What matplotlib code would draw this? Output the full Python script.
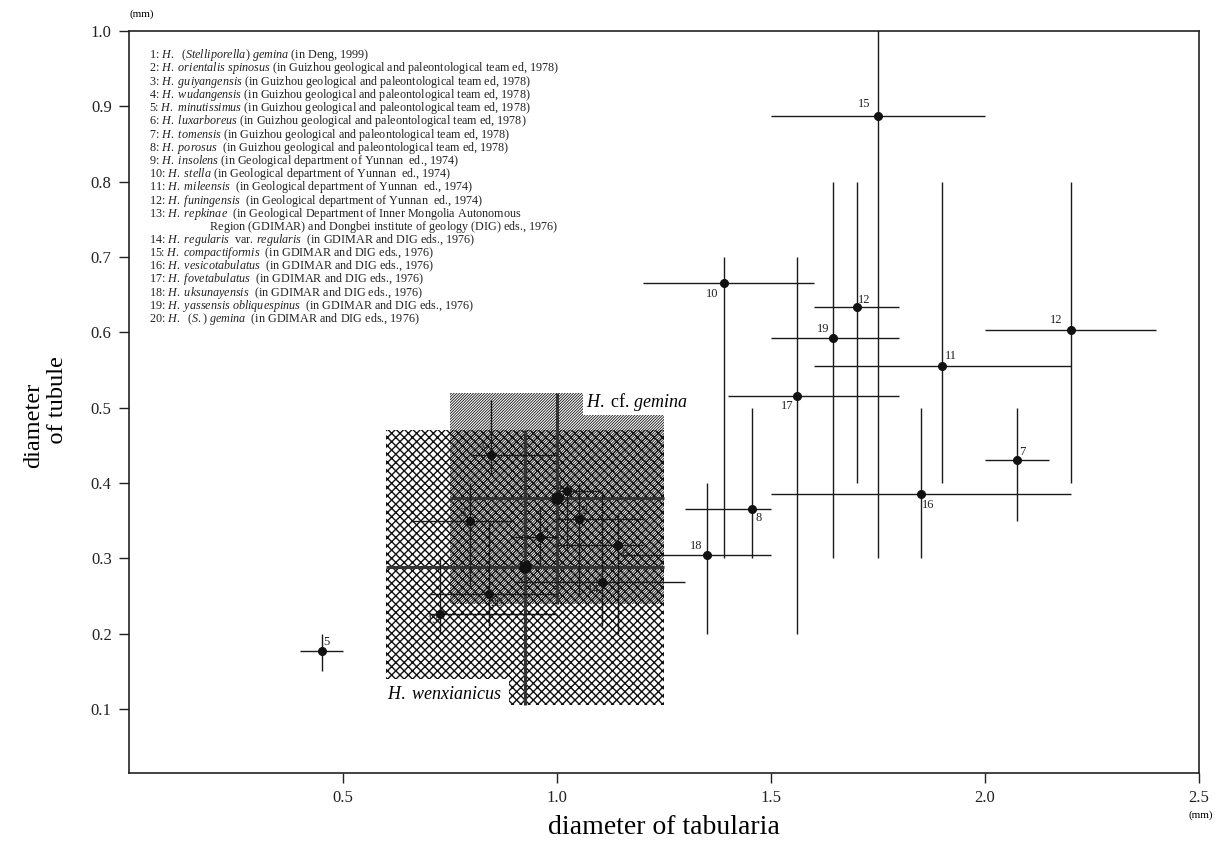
import matplotlib
matplotlib.use('Agg')
import matplotlib.pyplot as plt
from matplotlib.patches import Rectangle

plt.rcParams['font.family'] = ['Liberation Serif', 'DejaVu Serif']
plt.rcParams['mathtext.fontset'] = 'custom'
plt.rcParams['mathtext.rm'] = 'Liberation Serif'
plt.rcParams['mathtext.it'] = 'Liberation Serif:italic'
plt.rcParams['hatch.linewidth'] = 0.9

# numbered species: mean value and range (mm)
point_ids = ['15', '10', '12', '19', '11', '12', '17', '7', '16', '8', '18', '5',
             '9', '1', '3', '2', '4', '6', '14', '20', '13']
x_mean = [1.75, 1.39, 1.70, 1.645, 1.90, 2.20, 1.56, 2.075, 1.85, 1.455, 1.35, 0.45,
          0.846, 1.023, 0.797, 1.051, 0.961, 1.142, 1.104, 0.84, 0.727]
y_mean = [0.887, 0.665, 0.634, 0.592, 0.555, 0.603, 0.515, 0.43, 0.385, 0.365, 0.305, 0.177,
          0.437, 0.39, 0.349, 0.352, 0.328, 0.318, 0.268, 0.253, 0.226]
x_low = [1.5, 1.2, 1.6, 1.5, 1.6, 2.0, 1.4, 2.0, 1.5, 1.3, 1.15, 0.4,
         0.8, 1.0, 0.66, 1.0, 0.9, 1.0, 0.9, 0.7, 0.7]
x_high = [2.0, 1.6, 1.8, 1.8, 2.2, 2.4, 1.8, 2.15, 2.2, 1.5, 1.5, 0.5,
          1.0, 1.1, 0.9, 1.2, 1.0, 1.2, 1.3, 1.0, 1.0]
y_low = [0.3, 0.3, 0.4, 0.3, 0.4, 0.4, 0.2, 0.35, 0.3, 0.3, 0.2, 0.15,
         0.41, 0.31, 0.26, 0.25, 0.29, 0.2, 0.21, 0.21, 0.2]
y_high = [1.05, 0.7, 0.8, 0.8, 0.8, 0.8, 0.7, 0.5, 0.5, 0.5, 0.4, 0.2,
          0.51, 0.4, 0.4, 0.4, 0.37, 0.36, 0.39, 0.35, 0.3]
# label offset in pixels from the dot
lab_dx = [-14, -12, 8, -10, 9, -14, -9, 5, 7, 7, -11, 5, -6, -7, -8, 6, 6, 7, -8, 8, -7]
lab_dy = [12, -11, 7, 9, 10, 10, -10, 8, -11, -9, 9, 9, 7, 5, 8, 8, 6, -9, -8, -9, -6]

# shaded ranges of two species
regions = ['H. wenxianicus', 'H. cf. gemina']
reg_x = [(0.6, 1.25), (0.75, 1.25)]
reg_y = [(0.105, 0.47), (0.24, 0.52)]
reg_mid_x = [0.925, 1.0]
reg_mid_y = [0.288, 0.38]
reg_hatch = ['xxxx', '////////////']
reg_hatch_lw = [1.0, 0.6]

legend_lines = [
    r"1: $\mathit{H.}$  ($\mathit{Stelliporella}$) $\mathit{gemina}$ (in Deng, 1999)",
    r"2: $\mathit{H.\ orientalis\ spinosus}$ (in Guizhou geological and paleontological team ed, 1978)",
    r"3: $\mathit{H.\ guiyangensis}$ (in Guizhou geological and paleontological team ed, 1978)",
    r"4: $\mathit{H.\ wudangensis}$ (in Guizhou geological and paleontological team ed, 1978)",
    r"5: $\mathit{H.\ minutissimus}$ (in Guizhou geological and paleontological team ed, 1978)",
    r"6: $\mathit{H.\ luxarboreus}$ (in Guizhou geological and paleontological team ed, 1978)",
    r"7: $\mathit{H.\ tomensis}$ (in Guizhou geological and paleontological team ed, 1978)",
    r"8: $\mathit{H.\ porosus}$  (in Guizhou geological and paleontological team ed, 1978)",
    r"9: $\mathit{H.\ insolens}$ (in Geological department of Yunnan  ed., 1974)",
    r"10: $\mathit{H.\ stella}$ (in Geological department of Yunnan  ed., 1974)",
    r"11: $\mathit{H.\ mileensis}$  (in Geological department of Yunnan  ed., 1974)",
    r"12: $\mathit{H.\ funingensis}$  (in Geological department of Yunnan  ed., 1974)",
    r"13: $\mathit{H.\ repkinae}$  (in Geological Department of Inner Mongolia Autonomous",
    r"                    $\mathrm{Region}$ (GDIMAR) and Dongbei institute of geology (DIG) eds., 1976)",
    r"14: $\mathit{H.\ regularis}$  var. $\mathit{regularis}$  (in GDIMAR and DIG eds., 1976)",
    r"15: $\mathit{H.\ compactiformis}$  (in GDIMAR and DIG eds., 1976)",
    r"16: $\mathit{H.\ vesicotabulatus}$  (in GDIMAR and DIG eds., 1976)",
    r"17: $\mathit{H.\ fovetabulatus}$  (in GDIMAR and DIG eds., 1976)",
    r"18: $\mathit{H.\ uksunayensis}$  (in GDIMAR and DIG eds., 1976)",
    r"19: $\mathit{H.\ yassensis\ obliquespinus}$  (in GDIMAR and DIG eds., 1976)",
    r"20: $\mathit{H.}$  ($\mathit{S.}$) $\mathit{gemina}$  (in GDIMAR and DIG eds., 1976)",
]

fig = plt.figure(figsize=(12.24, 8.52), dpi=100)
ax = fig.add_axes([0.1054, 0.0927, 0.8742, 0.8709])
ax.set_xlim(0, 2.5)
ax.set_ylim(0.015, 1.0)

# hatched ranges
for i in range(len(regions)):
    plt.rcParams['hatch.linewidth'] = reg_hatch_lw[i]
    ax.add_patch(Rectangle((reg_x[i][0], reg_y[i][0]), reg_x[i][1] - reg_x[i][0],
                           reg_y[i][1] - reg_y[i][0], fill=False, hatch=reg_hatch[i],
                           ec='#111111', lw=0, zorder=1))
    ax.hlines(reg_mid_y[i], reg_x[i][0], reg_x[i][1], color='#333333', lw=2.2, zorder=3)
    ax.vlines(reg_mid_x[i], reg_y[i][0], reg_y[i][1], color='#333333', lw=2.2, zorder=3)
    ax.plot(reg_mid_x[i], reg_mid_y[i], 'o', color='#111111', ms=8, zorder=4)

ax.text(1.068, 0.508, r"$\mathit{H.}$ cf. $\mathit{gemina}$", fontsize=13, va='center',
        ha='left', bbox=dict(fc='white', ec='none', pad=2), zorder=5)
ax.text(0.603, 0.119, r"$\mathit{H.\ wenxianicus}$", fontsize=13, va='center', ha='left',
        bbox=dict(fc='white', ec='none', pad=5), zorder=5)

# numbered species
ax.hlines(y_mean, x_low, x_high, color='#1a1a1a', lw=1.0, zorder=3)
ax.vlines(x_mean, y_low, y_high, color='#1a1a1a', lw=1.0, zorder=3)
ax.plot(x_mean, y_mean, 'o', color='#111111', ms=5.5, ls='none', zorder=4)
for i, name in enumerate(point_ids):
    ax.annotate(name, (x_mean[i], y_mean[i]), xytext=(lab_dx[i], lab_dy[i]),
                textcoords='offset pixels', fontsize=9, ha='center', va='center',
                color='#222222', zorder=4)

# legend block, one text so the lines keep an even step (baseline = last line)
ax.text(0.0187, 0.6078, '\n'.join(legend_lines), transform=ax.transAxes, fontsize=8.7,
        va='baseline', ha='left', multialignment='left', linespacing=0.747,
        color='#222222')

ax.set_xticks([0.5, 1.0, 1.5, 2.0, 2.5])
ax.set_xticklabels(['0.5', '1.0', '1.5', '2.0', '2.5'])
ax.set_yticks([0.1, 0.2, 0.3, 0.4, 0.5, 0.6, 0.7, 0.8, 0.9, 1.0])
ax.tick_params(direction='out', length=7.5, width=1.0, pad=5, labelsize=12, colors='#222222')
for s in ax.spines.values():
    s.set_linewidth(1.2)
    s.set_color('#222222')

ax.set_xlabel('diameter of tabularia', fontsize=20, labelpad=6)
ax.set_ylabel('diameter\n    of tubule', fontsize=17.5, linespacing=1.15,
              multialignment='left')
ax.yaxis.set_label_coords(-0.057, 0.4865)
fig.text(0.116, 0.983, '(mm)', fontsize=8, ha='center', va='center')
fig.text(0.981, 0.043, '(mm)', fontsize=8, ha='center', va='center')

fig.savefig('out.png', dpi=100)
